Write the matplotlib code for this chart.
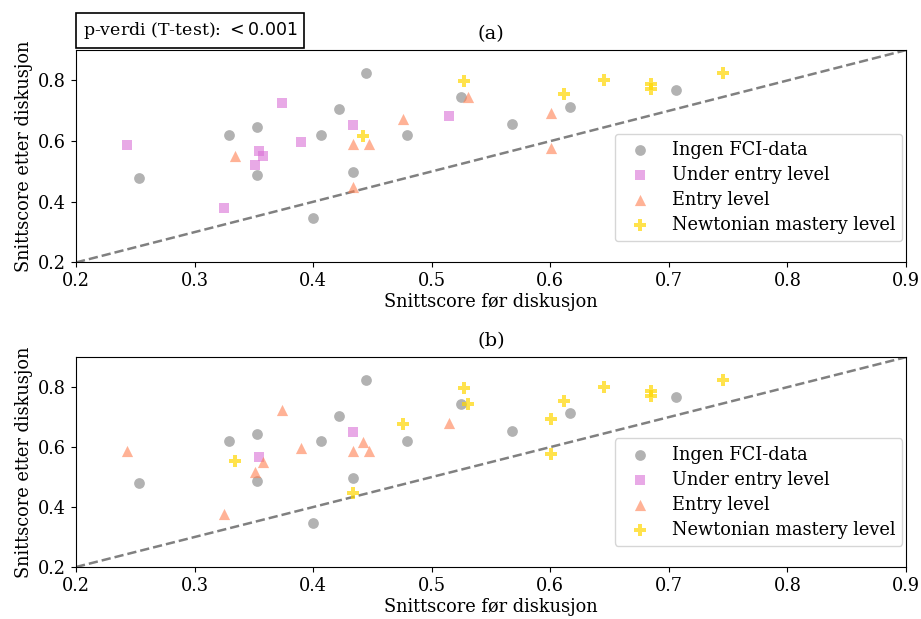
import numpy as np
import matplotlib
matplotlib.use("Agg")
import matplotlib.pyplot as plt

plt.rcParams['font.family'] = 'DejaVu Serif'
plt.rcParams['font.size'] = 12.8

# ---- data ----
# no FCI data (same in both panels)
ingen_x = [0.445, 0.525, 0.422, 0.353, 0.329, 0.407, 0.479, 0.568, 0.353, 0.253, 0.434, 0.400, 0.617, 0.706]
ingen_y = [0.825, 0.745, 0.705, 0.645, 0.620, 0.620, 0.620, 0.655, 0.487, 0.479, 0.498, 0.348, 0.713, 0.768]

# panel (a)
a_under_x = [0.243, 0.374, 0.390, 0.354, 0.358, 0.351, 0.325, 0.434, 0.515]
a_under_y = [0.587, 0.725, 0.598, 0.568, 0.552, 0.520, 0.378, 0.652, 0.683]
a_entry_x = [0.334, 0.434, 0.447, 0.434, 0.476, 0.531, 0.601, 0.601]
a_entry_y = [0.550, 0.590, 0.590, 0.448, 0.673, 0.744, 0.694, 0.576]
a_newton_x = [0.527, 0.442, 0.612, 0.645, 0.685, 0.685, 0.746]
a_newton_y = [0.797, 0.617, 0.755, 0.800, 0.787, 0.772, 0.825]

# panel (b)
b_under_x = [0.354, 0.434]
b_under_y = [0.567, 0.650]
b_entry_x = [0.243, 0.374, 0.390, 0.358, 0.351, 0.325, 0.434, 0.442, 0.447, 0.515]
b_entry_y = [0.587, 0.725, 0.596, 0.549, 0.518, 0.378, 0.588, 0.616, 0.588, 0.679]
b_newton_x = [0.334, 0.434, 0.476, 0.531, 0.601, 0.601, 0.527, 0.612, 0.645, 0.685, 0.685, 0.746]
b_newton_y = [0.555, 0.448, 0.676, 0.744, 0.694, 0.576, 0.797, 0.755, 0.800, 0.787, 0.772, 0.825]

labels = ["Ingen FCI-data", "Under entry level", "Entry level", "Newtonian mastery level"]
xticks = [0.2, 0.3, 0.4, 0.5, 0.6, 0.7, 0.8, 0.9]
yticks = [0.2, 0.4, 0.6, 0.8]

fig = plt.figure(figsize=(9.21, 6.19), dpi=100)
ax1 = fig.add_axes([0.0825, 0.576, 0.9012, 0.343])
ax2 = fig.add_axes([0.0825, 0.084, 0.9012, 0.339])


def draw(ax, under, entry, newton, title):
    ax.plot([0.2, 0.9], [0.2, 0.9], '--', color='gray', lw=1.8, zorder=1)
    ax.scatter(ingen_x, ingen_y, s=60, marker='o', color='gray', alpha=0.6, lw=0, label=labels[0])
    ax.scatter(*under, s=60, marker='s', color='orchid', alpha=0.6, lw=0, label=labels[1])
    ax.scatter(*entry, s=65, marker='^', color='coral', alpha=0.6, lw=0, label=labels[2])
    ax.scatter(*newton, s=65, marker='P', color='gold', alpha=0.7, lw=0, label=labels[3])
    ax.set_xlim(0.2, 0.9)
    ax.set_ylim(0.2, 0.9)
    ax.set_xticks(xticks)
    ax.set_yticks(yticks)
    ax.set_xlabel("Snittscore før diskusjon", labelpad=2)
    ax.set_ylabel("Snittscore etter diskusjon")
    ax.set_title(title, fontsize=14, pad=8)
    ax.legend(loc='lower right', bbox_to_anchor=(0.9955, 0.1), borderaxespad=0,
              labelspacing=0.4, fontsize=12.8)


draw(ax1, (a_under_x, a_under_y), (a_entry_x, a_entry_y), (a_newton_x, a_newton_y), "(a)")
draw(ax2, (b_under_x, b_under_y), (b_entry_x, b_entry_y), (b_newton_x, b_newton_y), "(b)")

ax1.annotate("p-verdi (T-test): $<0.001$", xy=(0, 1), xycoords='axes fraction',
             xytext=(7, 9), textcoords='offset pixels', ha='left', va='bottom',
             fontsize=12.5,
             bbox=dict(boxstyle='square,pad=0.4', facecolor='white', edgecolor='black', lw=1.2))

fig.savefig("out.png", dpi=100)
